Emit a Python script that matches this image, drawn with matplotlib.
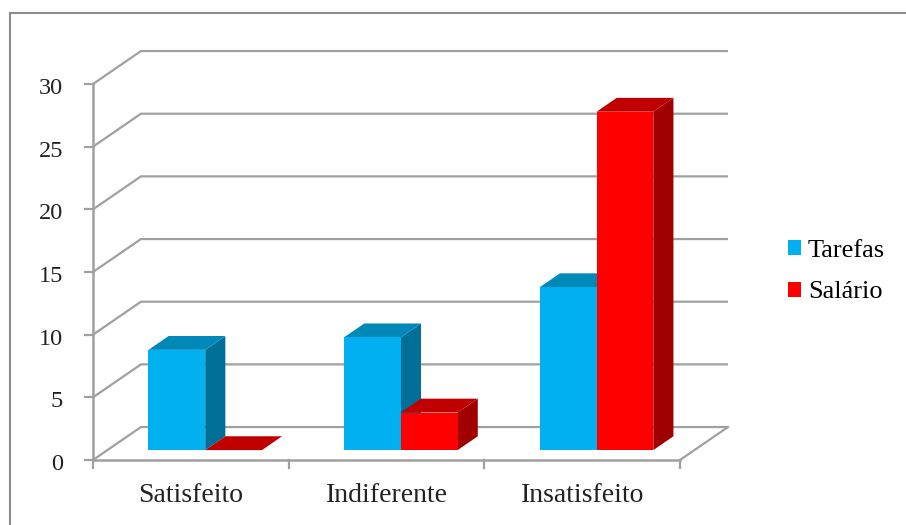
import matplotlib.pyplot as plt
from matplotlib.patches import Polygon, Patch
from matplotlib.lines import Line2D

categorias = ['Satisfeito', 'Indiferente', 'Insatisfeito']
tarefas = [8, 9, 13]
salario = [0, 3, 27]
series = ['Tarefas', 'Salário']
yticks = [0, 5, 10, 15, 20, 25, 30]

# cores (frente, topo, lado)
cores = {
    'Tarefas': ('#00B0F0', '#0088B8', '#006F98'),
    'Salário': ('#FF0000', '#C00000', '#A00000'),
}

# projecao obliqua: profundidade z em [0, 1]
KX = 0.245
KY = 2.63
Z0, Z1 = 0.30, 0.72
GRID = '#a0a0a0'

def proj(x, y, z):
    return (x + z * KX, y + z * KY)

fig = plt.figure(figsize=(9.06, 5.25), dpi=100)
ax = fig.add_axes([0, 0, 1, 1])
ax.set_xlim(-93 / 195.67, (906 - 93) / 195.67)
ax.set_ylim(-(525 - 460) / 12.533, 460 / 12.533)
ax.axis('off')

# moldura externa
fig.add_artist(Line2D([10 / 906, 10 / 906], [1 - 13 / 525, 0], color='#8c8c8c', lw=1.5,
                      transform=fig.transFigure))
fig.add_artist(Line2D([10 / 906, 1], [1 - 13 / 525, 1 - 13 / 525], color='#8c8c8c', lw=1.5,
                      transform=fig.transFigure))

n = len(categorias)
# parede do fundo e parede esquerda
for v in yticks:
    a = proj(0, v, 0)
    b = proj(0, v, 1)
    c = proj(n, v, 1)
    ax.plot([a[0], b[0], c[0]], [a[1], b[1], c[1]], color=GRID, lw=1.6, zorder=1,
            solid_capstyle='butt')
    # marca do eixo y
    ax.plot([-8 / 195.67, 0], [v, v], color=GRID, lw=1.6, zorder=1)
    ax.text(-30 / 195.67, v - 0.8, str(v), ha='right', va='baseline',
            fontsize=17.5, family='Liberation Serif', color='#222222')

# chao: borda direita
a = proj(n, 0, 0)
b = proj(n, 0, 1)
ax.plot([a[0], b[0]], [a[1], b[1]], color=GRID, lw=1.6, zorder=1)
# eixos frontais
ax.plot([0, 0], [0, yticks[-1]], color=GRID, lw=1.8, zorder=1)
ax.plot([0, n], [0, 0], color=GRID, lw=1.8, zorder=1)
for i in range(n + 1):
    ax.plot([i, i], [0, -8 / 12.533], color=GRID, lw=1.6, zorder=1)

def barra(x0, x1, v, cor):
    frente, topo, lado = cor
    f = [proj(x0, 0, Z0), proj(x1, 0, Z0), proj(x1, v, Z0), proj(x0, v, Z0)]
    t = [proj(x0, v, Z0), proj(x1, v, Z0), proj(x1, v, Z1), proj(x0, v, Z1)]
    s = [proj(x1, 0, Z0), proj(x1, 0, Z1), proj(x1, v, Z1), proj(x1, v, Z0)]
    ax.add_patch(Polygon(s, closed=True, facecolor=lado, edgecolor='none', zorder=3))
    ax.add_patch(Polygon(t, closed=True, facecolor=topo, edgecolor='none', zorder=3))
    if v > 0:
        ax.add_patch(Polygon(f, closed=True, facecolor=frente, edgecolor='none', zorder=3))

w = 0.29
off = 0.21
for i in range(n):
    barra(i + off, i + off + w, tarefas[i], cores['Tarefas'])
    barra(i + off + w, i + off + 2 * w, salario[i], cores['Salário'])
    ax.text(i + 0.5, -3.35, categorias[i], ha='center', va='baseline',
            fontsize=20, family='Liberation Serif', color='#222222')

handles = [Patch(facecolor=cores[s][0], edgecolor='none', label=s) for s in series]
fig.legend(handles=handles, loc='center left', bbox_to_anchor=(788 / 906, 1 - 271.5 / 525),
           frameon=False, borderpad=0, borderaxespad=0, handlelength=0.5, handleheight=0.5,
           handletextpad=0.25, labelspacing=0.75,
           prop={'family': 'Liberation Serif', 'size': 19})

fig.savefig('out.png', dpi=100)
